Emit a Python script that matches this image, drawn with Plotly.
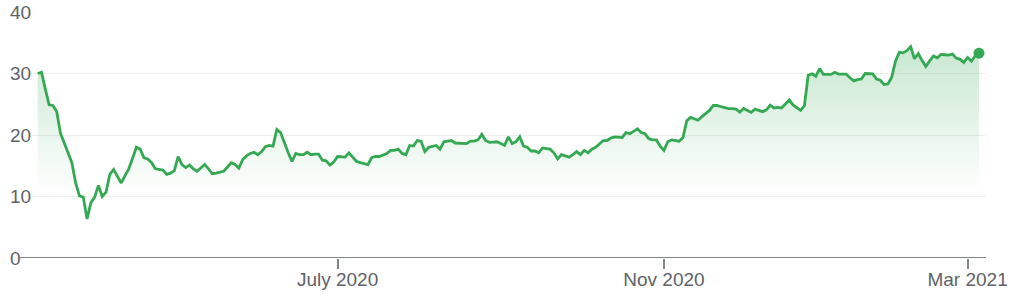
import pandas as pd
import plotly.graph_objects as go

# ---- data ----
start_date = "2020-03-10"
market_holidays = ["2020-04-10", "2020-05-25", "2020-07-03", "2020-09-07",
                   "2020-11-26", "2020-12-25", "2021-01-01", "2021-01-18",
                   "2021-02-15"]

prices = [
    30.0, 30.2, 27.5, 24.9, 24.8, 23.8, 20.3, 18.7, 17.1, 15.5,
    12.2, 10.1, 9.9, 6.35, 8.96, 9.9, 11.8, 10.0, 10.7, 13.6,
    14.4, 13.3, 12.2, 13.4, 14.5, 16.2, 18.0, 17.7, 16.3, 16.1,
    15.5, 14.5, 14.4, 14.3, 13.6, 13.8, 14.2, 16.5, 15.2, 14.7,
    15.1, 14.5, 14.1, 14.6, 15.2, 14.5, 13.7, 13.8, 13.9, 14.1,
    14.8, 15.5, 15.2, 14.6, 16.0, 16.6, 17.0, 17.2, 16.8, 17.3,
    18.1, 18.3, 18.2, 20.9, 20.4, 18.6, 17.1, 15.7, 17.0, 16.8,
    16.8, 17.2, 16.8, 16.9, 16.9, 15.9, 15.8, 15.1, 15.6, 16.5,
    16.5, 16.4, 17.1, 16.4, 15.7, 15.5, 15.4, 15.2, 16.3, 16.5,
    16.5, 16.8, 17.0, 17.5, 17.5, 17.7, 17.0, 16.8, 18.3, 18.2,
    19.1, 19.0, 17.3, 18.0, 18.1, 18.3, 17.7, 18.9, 19.0, 19.1,
    18.7, 18.7, 18.7, 18.6, 19.0, 19.0, 19.2, 20.1, 19.1, 18.8,
    18.85, 18.9, 18.6, 18.3, 19.7, 18.6, 18.9, 19.7, 18.2, 18.0,
    17.4, 17.4, 17.1, 17.9, 17.8, 17.7, 17.1, 16.1, 16.8, 16.6,
    16.4, 16.8, 17.3, 16.8, 17.5, 17.1, 17.7, 18.0, 18.5, 19.1,
    19.1, 19.5, 19.7, 19.7, 19.6, 20.4, 20.2, 20.6, 21.0, 20.4,
    20.2, 19.4, 19.2, 19.2, 18.2, 17.5, 18.9, 19.2, 19.1, 19.0,
    19.6, 22.3, 22.85, 22.6, 22.4, 23.0, 23.5, 24.0, 24.8, 24.8,
    24.6, 24.4, 24.3, 24.3, 24.2, 23.7, 24.3, 24.0, 23.7, 24.2,
    24.0, 23.8, 24.1, 24.85, 24.4, 24.5, 24.4, 25.1, 25.7, 24.9,
    24.4, 24.0, 24.75, 29.7, 29.95, 29.55, 30.8, 29.85, 29.85, 29.85,
    30.2, 29.9, 29.9, 29.9, 29.3, 28.8, 29.0, 29.1, 30.0, 30.0,
    29.95, 29.1, 28.9, 28.2, 28.3, 29.4, 32.0, 33.45, 33.35, 33.7,
    34.35, 32.4, 33.25, 32.1, 31.15, 32.05, 32.85, 32.55, 33.1, 33.05,
    33.0, 33.15, 32.5, 32.3, 31.8, 32.6, 32.0, 32.9, 33.3,
]

tick_dates = ["2020-07-01", "2020-11-02", "2021-03-01"]
tick_labels = ["July 2020", "Nov 2020", "Mar 2021"]
y_tick_values = [0, 10, 20, 30, 40]
y_tick_labels = ["0", "10", "20", "30", "40"]

# trading-day calendar (categories)
hol = set(pd.to_datetime(market_holidays))
days = [d for d in pd.bdate_range(start_date, periods=320) if d not in hol]
dates = [d.strftime("%Y-%m-%d") for d in days[:len(prices)]]

# ---- style ----
GREEN = "#34a853"
TEXT = "#5f6368"
AXIS = "#80868b"
GRID = "#eeeeee"
FONT = "Liberation Sans, Arial, sans-serif"
W, H = 1015, 300
ML, MR, MT, MB = 32, 29, 12, 42
pw = W - ML - MR

fig = go.Figure()
fig.add_trace(go.Scatter(
    x=dates, y=prices, mode="lines",
    line=dict(color=GREEN, width=2.8, shape="linear"),
    fill="tozeroy",
    fillgradient=dict(type="vertical", start=10.5, stop=max(prices),
                      colorscale=[[0, "rgba(52,168,83,0)"],
                                  [1, "rgba(52,168,83,0.27)"]]),
    hoverinfo="skip", showlegend=False,
))
fig.add_trace(go.Scatter(
    x=[dates[-1]], y=[prices[-1]], mode="markers",
    marker=dict(color=GREEN, size=11),
    hoverinfo="skip", showlegend=False,
))

n = len(prices)
px_per = (979 - 37.7) / (n - 1)
x_lo = -(37.7 - ML) / px_per
x_hi = (n - 1) + (986 - 979) / px_per

fig.update_layout(
    width=W, height=H,
    margin=dict(l=ML, r=MR, t=MT, b=MB, pad=0, autoexpand=False),
    paper_bgcolor="white", plot_bgcolor="white",
    font=dict(family=FONT, size=19, color=TEXT),
    xaxis=dict(type="category", range=[x_lo, x_hi], automargin=False,
               tickmode="array", tickvals=tick_dates, ticktext=tick_labels,
               ticks="outside", ticklen=10, tickwidth=1.5, tickcolor=AXIS,
               ticklabelstandoff=-6,
               showgrid=False, showline=False, zeroline=False,
               tickfont=dict(family=FONT, size=19, color=TEXT)),
    yaxis=dict(range=[0, 40], tickmode="array", tickvals=y_tick_values,
               automargin=False,
               showticklabels=False, showgrid=True, gridcolor=GRID,
               gridwidth=1, zeroline=False, showline=False),
    shapes=[dict(type="line", xref="paper", yref="y",
                 x0=(19.5 - ML) / pw, x1=1, y0=0, y1=0,
                 line=dict(color=AXIS, width=2), layer="above")],
)

for v, lab in zip(y_tick_values, y_tick_labels):
    fig.add_annotation(x=(8.0 - ML) / pw, xref="paper", y=v, yref="y",
                       text=lab, showarrow=False, xanchor="left",
                       yanchor="middle",
                       font=dict(family=FONT, size=19, color=TEXT))

fig.write_html("out.html", config={"displayModeBar": False})
